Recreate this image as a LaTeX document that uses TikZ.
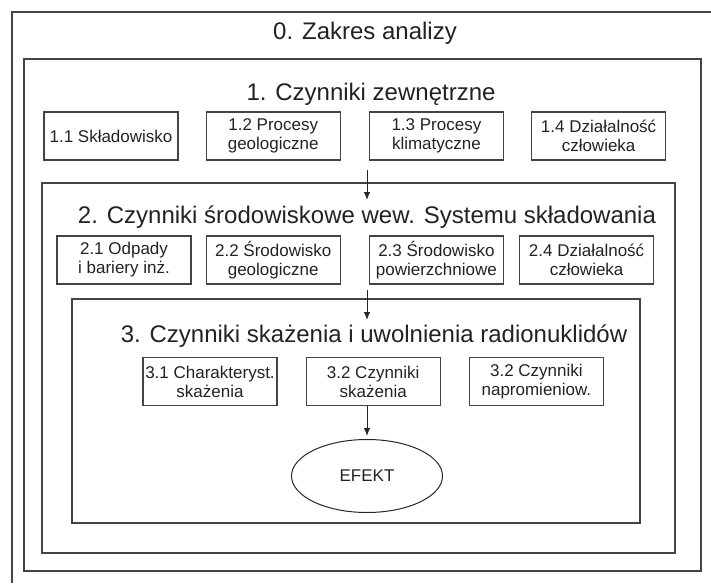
\documentclass[tikz,border=0pt]{standalone}
\definecolor{framegray}{HTML}{444444}
\definecolor{textgray}{HTML}{222222}
\usepackage{fontspec}
\setmainfont{Liberation Sans}
\usepackage{tikz}
\usetikzlibrary{shapes.geometric, arrows.meta, positioning}

\begin{document}
\begin{tikzpicture}[x=1pt, y=-1pt,
    frame/.style={draw=framegray, line width=1.7pt},
    factor/.style={draw=framegray, line width=1.2pt, minimum width=134pt,
      minimum height=48pt, inner sep=1pt, align=center, text=textgray,
      font=\fontsize{17}{19}\selectfont},
    heading/.style={anchor=base, text=textgray, inner sep=0pt,
      font=\fontsize{24}{28}\selectfont},
    arr/.style={-{Latex[length=8pt,width=6.5pt]}, line width=1pt, draw=black!85}]
      \useasboundingbox (0,0) rectangle (711,583);
      \draw[frame] (12,583) -- (12,12) -- (711,12);
      \draw[frame] (24,59) rectangle (701,571);
      \draw[frame] (42,183) rectangle (675,553);
      \draw[frame] (72,299) rectangle (640,523);

      \node[heading] (t0) at (365,40) {0. Zakres analizy};
      \node[heading] (t1) at (371,101) {1. Czynniki zewnętrzne};
      \node[heading] (t2) at (367,223) {2. Czynniki środowiskowe wew. Systemu składowania};
      \node[heading] (t3) at (374,342) {3. Czynniki skażenia i uwolnienia radionuklidów};

      \node[factor] (b11) at (111,136) {1.1 Składowisko};
      \node[factor, right=27pt of b11] (b12) {1.2 Procesy\\geologiczne};
      \node[factor, right=28pt of b12] (b13) {1.3 Procesy\\klimatyczne};
      \node[factor, right=27pt of b13] (b14) {1.4 Działalność\\człowieka};

      \node[factor] (b21) at (124,260) {2.1 Odpady\\i bariery inż.};
      \node[factor, right=14pt of b21] (b22) {2.2 Środowisko\\geologiczne};
      \node[factor, right=28pt of b22] (b23) {2.3 Środowisko\\powierzchniowe};
      \node[factor, right=15pt of b23] (b24) {2.4 Działalność\\człowieka};

      \node[factor] (b31) at (210,381.5) {3.1 Charakteryst.\\skażenia};
      \node[factor, right=28pt of b31] (b32) {3.2 Czynniki\\skażenia};
      \node[factor, right=28pt of b32] (b33) {3.2 Czynniki\\napromieniow.};

      \node[ellipse, draw=black!85, line width=1pt, minimum width=151pt,
            minimum height=73pt, text=textgray,
            font=\fontsize{17}{19}\selectfont] (efekt) at (367,476) {EFEKT};

      \coordinate (a1s) at (367,170);
      \coordinate (a1e) at (367,200);
      \coordinate (a2s) at (367,290);
      \coordinate (a2e) at (367,320);
      \draw[arr] (a1s) -- (a1e);
      \draw[arr] (a2s) -- (a2e);
      \draw[arr] (b32.south -| efekt.north) -- ([yshift=3pt]efekt.north);
    \end{tikzpicture}
\end{document}
